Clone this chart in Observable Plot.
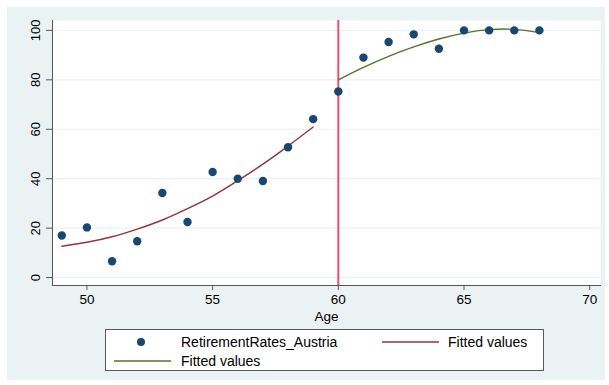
<!DOCTYPE html>
<html>
<head>
<meta charset="utf-8">
<script src="https://cdn.jsdelivr.net/npm/d3@7"></script>
<script src="https://cdn.jsdelivr.net/npm/@observablehq/plot@0.6"></script>
<style>
  html, body { margin: 0; padding: 0; background: #ffffff; }
  #wrap { position: relative; width: 609px; height: 385px; font-family: "Liberation Sans", Arial, sans-serif; }
  #panel { position: absolute; left: 7px; top: 7px; width: 598px; height: 373px; background: #eaf2f3; }
  #chart { position: absolute; left: 0; top: 0; }
  #legend { position: absolute; left: 105px; top: 329px; width: 439px; height: 42px;
            background: #ffffff; border: 1px solid #5a5a5a; box-sizing: border-box; font-size: 14px; color: #000; }
  #legend .item { position: absolute; white-space: nowrap; line-height: 14px; }
  #legend svg { position: absolute; overflow: visible; }
</style>
</head>
<body>
<div id="wrap">
  <div id="panel"></div>
  <div id="chart"></div>
  <div id="legend"></div>
</div>
<script>
// Retirement rates in Austria by age
const ages = [49, 50, 51, 52, 53, 54, 55, 56, 57, 58, 59, 60, 61, 62, 63, 64, 65, 66, 67, 68];
const rates = [17.0, 20.3, 6.6, 14.7, 34.2, 22.5, 42.7, 40.0, 39.1, 52.7, 64.1,
               75.3, 89.0, 95.3, 98.4, 92.6, 100, 100, 100, 100];

// Quadratic fit before age 60
const fitAgesLow = [49, 50, 51, 52, 53, 54, 55, 56, 57, 58, 59];
const fitLow = [12.7, 14.3, 16.5, 19.6, 23.3, 27.9, 33.0, 39.2, 45.9, 53.2, 60.9];

// Quadratic fit from age 60 on
const fitAgesHigh = [60, 61, 62, 63, 64, 65, 66, 67, 68];
const fitHigh = [80.0, 85.0, 89.5, 93.3, 96.5, 98.9, 100.3, 100.4, 99.1];

const cutoff = [60];
const xTicks = [50, 55, 60, 65, 70];
const yTicks = [0, 20, 40, 60, 80, 100];

const seriesLabels = ["RetirementRates_Austria", "Fitted values", "Fitted values"];
const colors = { dots: "#1a476f", low: "#90353b", high: "#55752f", cutoff: "#e8506e" };

const points = ages.map((a, i) => ({ age: a, rate: rates[i] }));
const lowFit = fitAgesLow.map((a, i) => ({ age: a, value: fitLow[i] }));
const highFit = fitAgesHigh.map((a, i) => ({ age: a, value: fitHigh[i] }));

const chart = Plot.plot({
  width: 609,
  height: 325,
  marginLeft: 52,
  marginRight: 9,
  marginTop: 20,
  marginBottom: 40,
  style: { background: "transparent", fontFamily: "'Liberation Sans', Arial, sans-serif", color: "#000" },
  x: { domain: [48.63, 70.43] },
  y: { domain: [-3.2, 104] },
  marks: [
    Plot.frame({ fill: "#ffffff", stroke: null }),
    Plot.gridY(yTicks, { stroke: "#eaf2f3", strokeOpacity: 1, strokeWidth: 1.2 }),
    Plot.axisY(yTicks, { tickSize: 6, tickRotate: -90, fontSize: 13, tickPadding: 7, label: null, stroke: "#555" }),
    Plot.axisX(xTicks, { tickSize: 5, fontSize: 13, tickPadding: 4, label: "Age", labelAnchor: "center",
                         labelArrow: "none", labelOffset: 35, fontSize: 13.5, stroke: "#555" }),
    Plot.frame({ anchor: "left", stroke: "#555" }),
    Plot.frame({ anchor: "bottom", stroke: "#555" }),
    Plot.ruleX(cutoff, { stroke: colors.cutoff, strokeWidth: 2 }),
    Plot.line(lowFit, { x: "age", y: "value", stroke: colors.low, strokeWidth: 1.4, curve: "natural" }),
    Plot.line(highFit, { x: "age", y: "value", stroke: colors.high, strokeWidth: 1.4, curve: "natural" }),
    Plot.dot(points, { x: "age", y: "rate", r: 4.2, fill: colors.dots, stroke: null })
  ]
});
document.getElementById("chart").appendChild(chart);

// Legend
const legend = document.getElementById("legend");
function addItem(kind, color, symX, symY, textX, textY, label) {
  const ns = "http://www.w3.org/2000/svg";
  const svg = document.createElementNS(ns, "svg");
  svg.setAttribute("width", 60);
  svg.setAttribute("height", 10);
  svg.style.left = symX + "px";
  svg.style.top = (symY - 5) + "px";
  if (kind === "dot") {
    const c = document.createElementNS(ns, "circle");
    c.setAttribute("cx", 0); c.setAttribute("cy", 5); c.setAttribute("r", 4);
    c.setAttribute("fill", color);
    svg.appendChild(c);
  } else {
    const l = document.createElementNS(ns, "line");
    l.setAttribute("x1", 0); l.setAttribute("x2", 57); l.setAttribute("y1", 5); l.setAttribute("y2", 5);
    l.setAttribute("stroke", color); l.setAttribute("stroke-width", 1.4);
    svg.appendChild(l);
  }
  legend.appendChild(svg);
  const span = document.createElement("span");
  span.className = "item";
  span.textContent = label;
  span.style.left = textX + "px";
  span.style.top = (textY - 7) + "px";
  legend.appendChild(span);
}
addItem("dot", colors.dots, 35, 12, 75, 12, seriesLabels[0]);
addItem("line", colors.low, 276, 12, 342, 12, seriesLabels[1]);
addItem("line", colors.high, 8, 31, 75, 31, seriesLabels[2]);
</script>
</body>
</html>
